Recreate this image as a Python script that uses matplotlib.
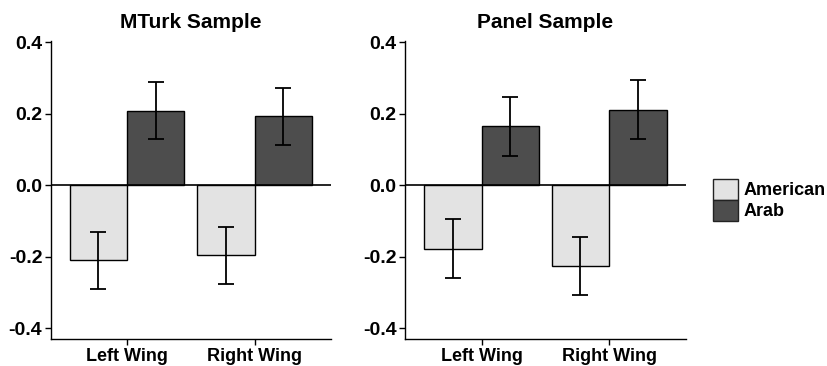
import numpy as np
import matplotlib
matplotlib.use("Agg")
import matplotlib.pyplot as plt
from matplotlib.patches import Patch

plt.rcParams['font.family'] = ['Liberation Sans', 'DejaVu Sans']
plt.rcParams['font.weight'] = 'bold'

categories = ["Left Wing", "Right Wing"]
groups = ["American", "Arab"]
colors = ["#e3e3e3", "#4d4d4d"]

titles = ["MTurk Sample", "Panel Sample"]
# means for each category, per sample and group
mturk_american = [-0.210, -0.196]
mturk_arab = [0.208, 0.192]
panel_american = [-0.178, -0.226]
panel_arab = [0.164, 0.211]
mturk_err = [0.080, 0.080]
panel_err = [0.082, 0.082]

data = [
    ([mturk_american, mturk_arab], mturk_err),
    ([panel_american, panel_arab], panel_err),
]

fig = plt.figure(figsize=(8.27, 3.66), dpi=100)
axes = [fig.add_axes([0.0613, 0.073, 0.339, 0.815]),
        fig.add_axes([0.4897, 0.073, 0.3394, 0.815])]

x = np.arange(len(categories))
w = 0.45
for ax, title, (vals, err) in zip(axes, titles, data):
    for i, (g, c) in enumerate(zip(groups, colors)):
        pos = x + (i - 0.5) * w
        ax.bar(pos, vals[i], width=w, color=c, edgecolor="black",
               linewidth=1.0, zorder=2)
        ax.errorbar(pos, vals[i], yerr=err, fmt="none", ecolor="black",
                    elinewidth=1.3, capsize=5.5, capthick=1.3, zorder=3)
    ax.axhline(0, color="black", linewidth=1.2, zorder=4)
    ax.set_xlim(-0.6, 1.6)
    ax.set_ylim(-0.431, 0.403)
    ax.set_yticks([-0.4, -0.2, 0.0, 0.2, 0.4])
    ax.set_yticklabels(["-0.4", "-0.2", "0.0", "0.2", "0.4"])
    ax.set_xticks(x)
    ax.set_xticklabels(categories, fontsize=13)
    ax.tick_params(axis="y", labelsize=14, length=4, width=1, pad=2)
    ax.tick_params(axis="x", length=4, width=1, pad=2)
    for s in ["top", "right"]:
        ax.spines[s].set_visible(False)
    for s in ["left", "bottom"]:
        ax.spines[s].set_linewidth(1.0)
    ax.set_title(title, fontsize=15, fontweight="bold", pad=9)

handles = [Patch(facecolor=c, edgecolor="#222222", linewidth=1.0) for c in colors]
fig.legend(handles, groups, loc="center left",
           bbox_to_anchor=(0.8618, 0.4544), frameon=False, fontsize=13,
           handlelength=1.4, handleheight=1.4, labelspacing=0.0,
           handletextpad=0.3, borderpad=0, borderaxespad=0)

fig.savefig("out.png", dpi=100)
